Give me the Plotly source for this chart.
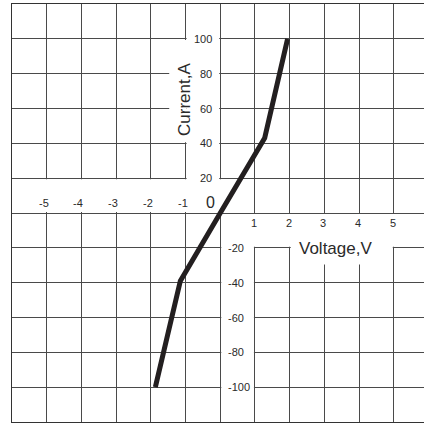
import plotly.graph_objects as go

# Data
voltage = [-1.87, -1.15, 0.0, 1.28, 1.94]
current = [-100, -39, 0, 43, 100]

x_neg_ticks = [-5, -4, -3, -2, -1]
x_pos_ticks = [1, 2, 3, 4, 5]
y_pos_ticks = [20, 40, 60, 80, 100]
y_neg_ticks = [-20, -40, -60, -80, -100]

x_title = "Voltage,V"
y_title = "Current,A"

FONT = "Liberation Sans, Arial, sans-serif"
GRID = "#4a4a4a"
TXT = "#2a2a2a"

fig = go.Figure()
fig.add_trace(go.Scatter(x=voltage, y=current, mode="lines",
                         line=dict(color="#231f20", width=5),
                         hoverinfo="skip", showlegend=False))

e = 0.03
ey = 0.6
white = dict(type="rect", fillcolor="white", line=dict(width=0), layer="between",
             xref="x", yref="y")
rects = [
    (-6 + e, 0 + ey, 0 + e, 20 - ey),      # negative x label band
    (0 + e, -20 + ey, 5.87, 0 - ey),       # positive x label band
    (0 + e, -120 + ey, 1 - e, 0 - ey),     # negative y label column
    (2 + e, -29.5, 5 - e, 0 - ey),         # Voltage label box
    (-1 + e, 0 + ey, 0 - e, 120 - ey),     # positive y label column
    (-1.47, 40 + ey, -1 + e, 100 - ey),    # Current label box
]
for x0, y0, x1, y1 in rects:
    fig.add_shape(x0=x0, y0=y0, x1=x1, y1=y1, **white)

ann = []
for v in x_neg_ticks:
    ann.append(dict(x=v, y=6, text=str(v), xshift=-3))
for v in x_pos_ticks:
    ann.append(dict(x=v, y=-6, text=str(v), xshift=-1))
for v in y_pos_ticks:
    ann.append(dict(x=0, y=v, text=str(v), xanchor="right", xshift=-6))
for v in y_neg_ticks:
    ann.append(dict(x=0, y=v, text=str(v), xanchor="left", xshift=6))
for a in ann:
    a.setdefault("xanchor", "center")
    fig.add_annotation(showarrow=False, yanchor="middle",
                       font=dict(family=FONT, size=11, color=TXT), **a)

fig.add_annotation(x=-0.29, y=6.2, text="0", showarrow=False,
                   xanchor="center", yanchor="middle",
                   font=dict(family=FONT, size=16, color=TXT))
fig.add_annotation(x=3.33, y=-20.5, text=x_title, showarrow=False,
                   xanchor="center", yanchor="middle",
                   font=dict(family=FONT, size=17, color=TXT))
fig.add_annotation(x=-1.01, y=65, text=y_title, showarrow=False, textangle=-90,
                   xanchor="center", yanchor="middle",
                   font=dict(family=FONT, size=17, color=TXT))

fig.update_layout(
    width=424, height=424,
    margin=dict(l=12, r=0, t=4, b=2),
    paper_bgcolor="white", plot_bgcolor="white",
    xaxis=dict(range=[-6, 5.87], tick0=0, dtick=1, showgrid=True,
               gridcolor=GRID, gridwidth=1, zeroline=False,
               showticklabels=False, ticks="", showline=True, mirror=True,
               linecolor="#333", linewidth=1, fixedrange=True),
    yaxis=dict(range=[-120, 120], tick0=0, dtick=20, showgrid=True,
               gridcolor=GRID, gridwidth=1, zeroline=False,
               showticklabels=False, ticks="", showline=True, mirror=False,
               linecolor="#333", linewidth=1, fixedrange=True),
)

fig.write_html("out.html", config={"displayModeBar": False},
               post_script="document.body.style.margin='0px';document.body.style.overflow='hidden';")
